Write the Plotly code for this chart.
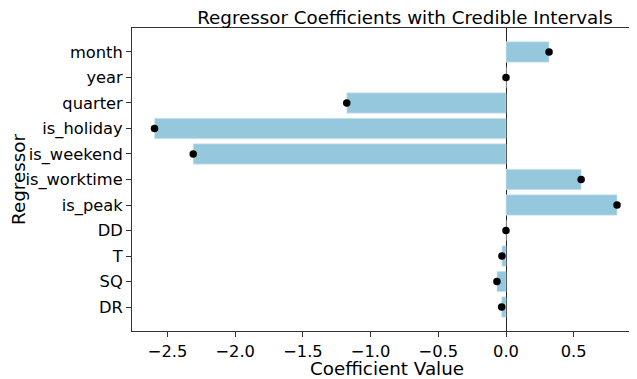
import plotly.graph_objects as go

regressors = ["DR", "SQ", "T", "DD", "is_peak", "is_worktime", "is_weekend",
              "is_holiday", "quarter", "year", "month"]
coefficients = [-0.032, -0.067, -0.03, 0.0, 0.82, 0.555, -2.31,
                -2.596, -1.176, 0.0, 0.318]
x_ticks = [-2.5, -2.0, -1.5, -1.0, -0.5, 0.0, 0.5]

# page has an 8px body offset
OFF = 8
W, H = 637, 371
PLOT_TOP, PLOT_BOTTOM, PLOT_LEFT = 28, 331, 132
L, R, T, B = PLOT_LEFT - OFF, 0, PLOT_TOP - OFF, H - (PLOT_BOTTOM - OFF)
PX_PER_UNIT = 135.4
ZERO_PX = 506
plot_h = PLOT_BOTTOM - PLOT_TOP
plot_w = W - L - R

fig = go.Figure()
fig.add_trace(go.Bar(
    x=coefficients, y=regressors, orientation="h", width=0.8,
    marker=dict(color="#95C8DD", line=dict(color="#D6EAF2", width=0.6)),
    showlegend=False,
))
fig.add_trace(go.Scatter(
    x=coefficients, y=regressors, mode="markers",
    marker=dict(color="black", size=7.5),
    showlegend=False,
))

font = "DejaVu Sans, Arial, sans-serif"
fig.update_layout(
    width=W, height=H,
    margin=dict(l=L, r=R, t=T, b=B, pad=0),
    plot_bgcolor="white", paper_bgcolor="white",
    font=dict(family=font, color="black", size=16),
    bargap=0.2,
    title=dict(text="Regressor Coefficients with Credible Intervals",
               x=(405 - OFF) / W, xanchor="center", xref="container",
               y=1 - (17.5 - OFF) / H, yanchor="middle", yref="container",
               font=dict(size=18.3, family=font)),
    annotations=[dict(
        text="Coefficient Value", showarrow=False,
        xref="paper", yref="paper",
        x=(387 - PLOT_LEFT) / plot_w, xanchor="center",
        y=-(368.5 - PLOT_BOTTOM) / plot_h, yanchor="middle",
        borderpad=0,
        font=dict(size=18.3, family=font, color="black"),
    )],
)
fig.update_xaxes(
    range=[(PLOT_LEFT - ZERO_PX) / PX_PER_UNIT, (OFF + W - ZERO_PX) / PX_PER_UNIT],
    tickvals=x_ticks, ticktext=[f"{v:.1f}".replace("-", "\u2212") for v in x_ticks],
    ticks="outside", ticklen=5, tickcolor="#333", tickwidth=1,
    showline=True, linecolor="#333", linewidth=1, mirror=True,
    showgrid=False, zeroline=True, zerolinecolor="#222", zerolinewidth=1,
    layer="above traces",
    tickfont=dict(size=16.3),
)
fig.update_yaxes(
    categoryorder="array", categoryarray=regressors,
    range=[-0.94, 10.94],
    ticks="outside", ticklen=5, tickcolor="#333", tickwidth=1,
    showline=True, linecolor="#333", linewidth=1,
    showgrid=False, zeroline=False,
    tickfont=dict(size=16.3),
    title=dict(text="Regressor", font=dict(size=18.3), standoff=6),
)

fig.write_html("out.html")
